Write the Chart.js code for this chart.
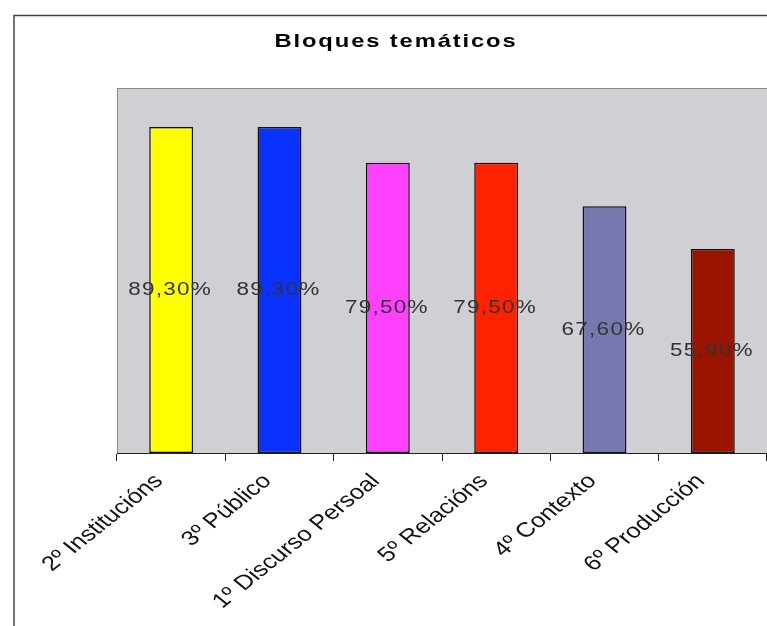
<!DOCTYPE html>
<html lang="es">
<head>
<meta charset="UTF-8">
<title>Bloques temáticos</title>
<script src="https://cdn.jsdelivr.net/npm/chart.js"></script>
<style>
  html, body { margin: 0; padding: 0; background: #fff; }
  .wrap { width: 767px; height: 626px; position: relative; }
</style>
</head>
<body>
<div class="wrap"><canvas id="bloques" width="767" height="626"></canvas></div>
<script>
// datos del gráfico
const categorias = ['2º Institucións', '3º Público', '1º Discurso Persoal', '5º Relacións', '4º Contexto', '6º Producción'];
const valores = [89.3, 89.3, 79.5, 79.5, 67.6, 55.9];
const etiquetas = ['89,30%', '89,30%', '79,50%', '79,50%', '67,60%', '55,90%'];
const colores = ['#ffff00', '#0a32ff', '#ff40ff', '#ff2200', '#7878b0', '#9a1400'];

const fuente = '"Liberation Sans", Arial, sans-serif';
const estirar = 1.25; // el original está algo estirado en horizontal

// fondo gris del área de trazado + marco del gráfico + título
const fondo = {
  id: 'fondo',
  beforeDraw(chart) {
    const c = chart.ctx, a = chart.chartArea;
    c.save();
    c.strokeStyle = '#444';
    c.lineWidth = 1.5;
    c.strokeRect(14, 15.5, 900, 800);
    c.fillStyle = '#d0cfd4';
    c.fillRect(a.left, a.top, a.right - a.left, a.bottom - a.top);
    c.strokeStyle = '#8a8a8a';
    c.lineWidth = 1;
    c.strokeRect(a.left + 0.5, a.top + 0.5, a.right - a.left + 5, a.bottom - a.top);
    c.translate(396, 42);
    c.scale(estirar, 1);
    c.fillStyle = '#000';
    c.font = 'bold 19px ' + fuente;
    c.textAlign = 'center';
    c.textBaseline = 'middle';
    c.letterSpacing = '1.5px';
    c.fillText('Bloques temáticos', 0, 0);
    c.restore();
  }
};

// porcentaje en mitad de cada barra y rótulos del eje x
const rotulos = {
  id: 'rotulos',
  afterDatasetsDraw(chart) {
    const c = chart.ctx;
    const bars = chart.getDatasetMeta(0).data;
    bars.forEach((bar, i) => {
      c.save();
      c.translate(bar.x - 1, (bar.y + bar.base) / 2);
      c.scale(estirar, 1);
      c.fillStyle = '#333';
      c.font = '18px ' + fuente;
      c.letterSpacing = '1px';
      c.textAlign = 'center';
      c.textBaseline = 'middle';
      c.fillText(etiquetas[i], 0, 0);
      c.restore();
    });
    const xs = chart.scales.x;
    categorias.forEach((txt, i) => {
      c.save();
      c.translate(xs.getPixelForTick(i) - 12, xs.top + 25);
      c.scale(estirar, 1);
      c.rotate(-Math.PI / 4);
      c.fillStyle = '#111';
      c.font = '20.5px ' + fuente;
      c.textAlign = 'right';
      c.textBaseline = 'middle';
      c.fillText(txt, 0, 0);
      c.restore();
    });
  }
};

new Chart(document.getElementById('bloques'), {
  type: 'bar',
  data: {
    labels: categorias,
    datasets: [{
      data: valores,
      backgroundColor: colores,
      borderColor: '#111',
      borderWidth: 1.5,
      borderSkipped: false,
      categoryPercentage: 1,
      barPercentage: 0.405
    }]
  },
  options: {
    responsive: false,
    animation: false,
    layout: { padding: { left: 117, top: 88, right: 0, bottom: 0 } },
    plugins: { legend: { display: false }, title: { display: false }, tooltip: { enabled: false } },
    scales: {
      y: { display: false, min: 0, max: 100 },
      x: {
        afterFit(scale) { scale.height = 173; },
        border: { display: true, color: '#222', width: 1 },
        grid: { display: true, drawOnChartArea: false, offset: true, tickLength: 8, color: '#222' },
        ticks: { display: false, autoSkip: false }
      }
    }
  },
  plugins: [fondo, rotulos]
});
</script>
</body>
</html>
